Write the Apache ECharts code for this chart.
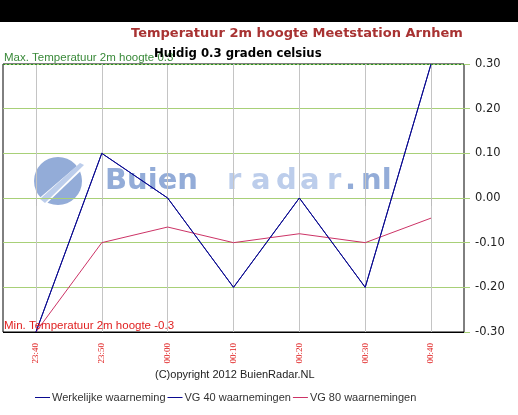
<!DOCTYPE html>
<html><head><meta charset="utf-8">
<script src="https://cdn.jsdelivr.net/npm/echarts@6/dist/echarts.min.js"></script>
<style>html,body{margin:0;padding:0;background:#fff}#c{width:518px;height:415px}</style>
</head><body><div id="c"></div>
<script>
const categories = ['23:40','23:50','00:00','00:10','00:20','00:30','00:40'];
const werkelijk = [-0.3, 0.1, 0.0, -0.2, 0.0, -0.2, 0.3];
const vg40 = [-0.3, 0.1, 0.0, -0.2, 0.0, -0.2, 0.3];
const vg80 = [-0.3, -0.1, -0.065, -0.1, -0.08, -0.1, -0.045];
const yTicks = [-0.3, 0.3, 0.1];
const maxTemp = 0.3, minTemp = -0.3;

const chart = echarts.init(document.getElementById('c'), null, {renderer:'canvas'});
const blueA = '#93acd8', blueB = '#bccdeb';
const letters = [['r',227],['a',251],['d',276],['a',300],['r',327]];
const option = {
  animation:false,
  backgroundColor:'#fff',
  title:[
    {text:'Temperatuur 2m hoogte Meetstation Arnhem', left:126, top:22,
     textStyle:{color:'#a83232', fontSize:13, fontWeight:'bold', fontFamily:'DejaVu Sans'}},
    {text:'Huidig 0.3 graden celsius', left:149, top:42,
     textStyle:{color:'#000', fontSize:13, fontWeight:'bold', fontFamily:'DejaVu Sans Condensed'}},
    {text:'(C)opyright 2012 BuienRadar.NL', left:150, top:364,
     textStyle:{color:'#222', fontSize:11, fontWeight:'normal', fontFamily:'Liberation Sans'}}
  ],
  grid:{left:3, right:54, top:64, bottom:83, show:true, borderColor:'#000', borderWidth:1, backgroundColor:'transparent'},
  legend:{left:35, top:392, padding:0, itemWidth:15, itemHeight:1, itemGap:2, icon:'rect',
    textStyle:{color:'#333', fontSize:11, fontFamily:'Liberation Sans', padding:[0,0,0,-3]},
    data:['Werkelijke waarneming','VG 40 waarnemingen','VG 80 waarnemingen']},
  xAxis:{type:'category', data:categories, boundaryGap:true,
    axisLine:{show:false},
    axisTick:{show:true, alignWithLabel:true, length:8, lineStyle:{color:'#bbb'}},
    splitLine:{show:true, alignWithLabel:true, lineStyle:{color:'#c4c4c4', width:1}},
    axisLabel:{rotate:90, color:'#e02020', fontSize:9, fontFamily:'Liberation Serif', margin:11}},
  yAxis:{type:'value', position:'right', min:yTicks[0], max:yTicks[1], interval:yTicks[2],
    axisLine:{show:false},
    axisTick:{show:true, length:6, lineStyle:{color:'#a8d078'}},
    splitLine:{show:true, lineStyle:{color:'#a8d078', width:1}},
    axisLabel:{color:'#222', fontSize:11.5, fontFamily:'DejaVu Sans', margin:11,
      formatter:v=>v.toFixed(2)}},
  series:[
    {name:'Werkelijke waarneming', type:'line', data:werkelijk, symbol:'none', z:4,
     lineStyle:{color:'#0a0a90', width:1}, itemStyle:{color:'#0a0a90'},
     markLine:{silent:true, symbol:'none', animation:false,
       data:[
         {yAxis:maxTemp, lineStyle:{color:'#2a8a2a', type:[2,2], width:1},
          label:{show:true, position:'insideStartTop', distance:[1,0], formatter:'Max. Temperatuur 2m hoogte 0.3', color:'#3a8a3a', fontSize:11.5, fontFamily:'Liberation Sans'}},
         {yAxis:minTemp, lineStyle:{color:'#000', type:'solid', width:1},
          label:{show:true, position:'insideStartTop', distance:[1,0], formatter:'Min. Temperatuur 2m hoogte -0.3', color:'#e02020', fontSize:11.5, fontFamily:'Liberation Sans'}}
       ]}},
    {name:'VG 40 waarnemingen', type:'line', data:vg40, symbol:'none', z:3,
     lineStyle:{color:'#0a0a90', width:1}, itemStyle:{color:'#0a0a90'}},
    {name:'VG 80 waarnemingen', type:'line', data:vg80, symbol:'none', z:3,
     lineStyle:{color:'#cc3366', width:1}, itemStyle:{color:'#cc3366'}}
  ],
  graphic:[
    {type:'rect', shape:{x:0,y:0,width:518,height:22}, style:{fill:'#000'}, z:10},
    {type:'group', z:0, silent:true, children:[
      {type:'circle', shape:{cx:58, cy:181, r:24}, style:{fill:blueA}},
      {type:'polygon', shape:{points:[[84,160],[88,164],[44,206],[36,201]]}, style:{fill:'#fff'}},
      {type:'polygon', shape:{points:[[80,163],[84,165],[45,203],[40,199]]}, style:{fill:blueB}},
      {type:'text', x:105, y:196, style:{text:'Buien', fill:blueA, font:'bold 29px "DejaVu Sans"', textVerticalAlign:'bottom'}},
      ...letters.map(l=>({type:'text', x:l[1], y:196, style:{text:l[0], fill:blueB, font:'bold 29px "DejaVu Sans"', textVerticalAlign:'bottom'}})),
      {type:'text', x:345, y:196, style:{text:'.', fill:blueA, font:'bold 29px "DejaVu Sans"', textVerticalAlign:'bottom'}},
      {type:'text', x:361, y:196, style:{text:'nl', fill:blueA, font:'bold 29px "DejaVu Sans"', textVerticalAlign:'bottom'}}
    ]}
  ]
};
chart.setOption(option);
</script></body></html>
